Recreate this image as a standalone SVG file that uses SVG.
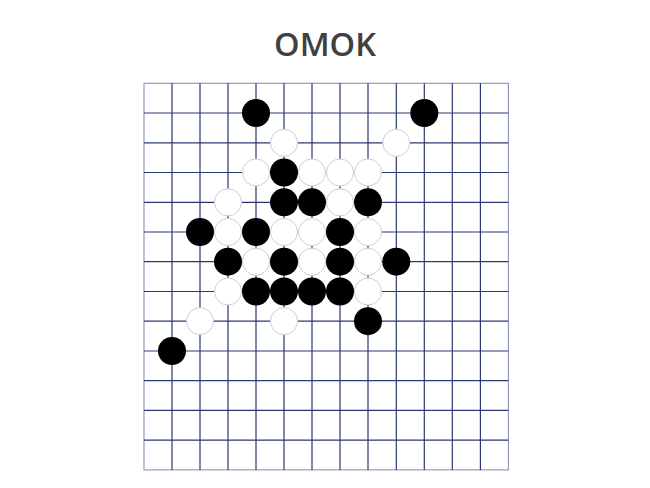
<svg xmlns="http://www.w3.org/2000/svg" width="650" height="488" viewBox="0 0 650 488">
<style>
.title{font-family:"Open Sans","Liberation Sans",sans-serif;font-weight:600;font-size:32.5px;fill:#404040}
.g{stroke:#2c3873;stroke-width:1.2;fill:none}
.b{fill:#000}
.w{fill:#fff;stroke:#cfcfcf;stroke-width:1}
</style>
<rect width="650" height="488" fill="#fff"/>
<text class="title" x="325" y="56" text-anchor="middle">OMOK</text>
<g id="board">
<rect x="144" y="83.3" width="364.4" height="386.6" fill="#fff" stroke="#8a92b8" stroke-width="1.1"/>
<g class="g">
<path d="M172 83.3V469.9M200 83.3V469.9M228 83.3V469.9M256 83.3V469.9M284 83.3V469.9M312 83.3V469.9M340 83.3V469.9M368 83.3V469.9M396.3 83.3V469.9M424.3 83.3V469.9M452.3 83.3V469.9M480.4 83.3V469.9"/>
<path d="M144 113H508.4M144 142.8H508.4M144 172.5H508.4M144 202.3H508.4M144 232H508.4M144 261.7H508.4M144 291.5H508.4M144 321.2H508.4M144 351H508.4M144 380.7H508.4M144 410.4H508.4M144 440.2H508.4"/>
</g>
</g>
<g id="white-stones">
<circle class="w" cx="284" cy="142.8" r="13.5"/>
<circle class="w" cx="396.3" cy="142.8" r="13.5"/>
<circle class="w" cx="256" cy="172.5" r="13.5"/>
<circle class="w" cx="312" cy="172.5" r="13.5"/>
<circle class="w" cx="340" cy="172.5" r="13.5"/>
<circle class="w" cx="368" cy="172.5" r="13.5"/>
<circle class="w" cx="228" cy="202.3" r="13.5"/>
<circle class="w" cx="340" cy="202.3" r="13.5"/>
<circle class="w" cx="228" cy="232" r="13.5"/>
<circle class="w" cx="284" cy="232" r="13.5"/>
<circle class="w" cx="312" cy="232" r="13.5"/>
<circle class="w" cx="368" cy="232" r="13.5"/>
<circle class="w" cx="256" cy="261.7" r="13.5"/>
<circle class="w" cx="312" cy="261.7" r="13.5"/>
<circle class="w" cx="368" cy="261.7" r="13.5"/>
<circle class="w" cx="228" cy="291.5" r="13.5"/>
<circle class="w" cx="368" cy="291.5" r="13.5"/>
<circle class="w" cx="200" cy="321.2" r="13.5"/>
<circle class="w" cx="284" cy="321.2" r="13.5"/>
</g>
<g id="black-stones">
<circle class="b" cx="256" cy="113" r="14"/>
<circle class="b" cx="424.3" cy="113" r="14"/>
<circle class="b" cx="284" cy="172.5" r="14"/>
<circle class="b" cx="284" cy="202.3" r="14"/>
<circle class="b" cx="312" cy="202.3" r="14"/>
<circle class="b" cx="368" cy="202.3" r="14"/>
<circle class="b" cx="200" cy="232" r="14"/>
<circle class="b" cx="256" cy="232" r="14"/>
<circle class="b" cx="340" cy="232" r="14"/>
<circle class="b" cx="228" cy="261.7" r="14"/>
<circle class="b" cx="284" cy="261.7" r="14"/>
<circle class="b" cx="340" cy="261.7" r="14"/>
<circle class="b" cx="396.3" cy="261.7" r="14"/>
<circle class="b" cx="256" cy="291.5" r="14"/>
<circle class="b" cx="284" cy="291.5" r="14"/>
<circle class="b" cx="312" cy="291.5" r="14"/>
<circle class="b" cx="340" cy="291.5" r="14"/>
<circle class="b" cx="368" cy="321.2" r="14"/>
<circle class="b" cx="172" cy="351" r="14"/>
</g>
</svg>
